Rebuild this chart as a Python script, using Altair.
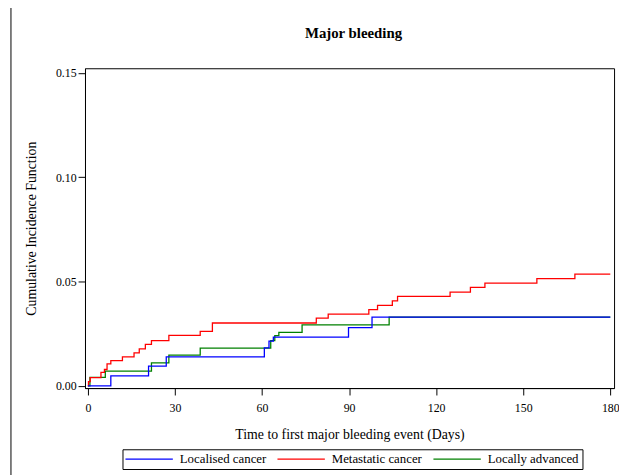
import altair as alt
import pandas as pd

# Series (days, cumulative incidence)
groups = ["Localised cancer", "Metastatic cancer", "Locally advanced"]
colors = ["#0000FF", "#FF0000", "#008000"]

loc_days = [0, 7.9, 20.9, 27.0, 60.8, 62.4, 63.9, 89.8, 97.9, 180]
loc_cif = [0.0, 0.0048, 0.0094, 0.0139, 0.0182, 0.0214, 0.0233, 0.0279, 0.0329, 0.0329]

met_days = [0, 0.2, 0.8, 4.5, 5.7, 6.6, 7.9, 11.9, 15.9, 17.7, 19.8, 21.9, 27.9, 38.7, 42.9,
            78.7, 82.8, 96.8, 99.8, 104.9, 106.7, 124.8, 131.8, 136.8, 154.7, 167.8, 180]
met_cif = [0.0, 0.0020, 0.0039, 0.0064, 0.0078, 0.0105, 0.0121, 0.0139, 0.0158, 0.0177, 0.0198,
           0.0216, 0.0242, 0.0261, 0.0301, 0.0324, 0.0344, 0.0365, 0.0385, 0.0407, 0.0429,
           0.0449, 0.0472, 0.0492, 0.0514, 0.0535, 0.0535]

adv_days = [0, 0.7, 6.0, 21.9, 27.9, 38.7, 63.0, 64.4, 65.8, 73.8, 103.8, 180]
adv_cif = [0.0, 0.0040, 0.0070, 0.0110, 0.0147, 0.0181, 0.0216, 0.0240, 0.0256, 0.0292, 0.0329, 0.0329]

x_ticks = [0, 30, 60, 90, 120, 150, 180]
y_ticks = [0.00, 0.05, 0.10, 0.15]
title_text = "Major bleeding"

rows = []
for g, ds, cs in [(groups[2], adv_days, adv_cif), (groups[1], met_days, met_cif), (groups[0], loc_days, loc_cif)]:
    for d, c in zip(ds, cs):
        rows.append({"group": g, "day": d, "cif": c})
df = pd.DataFrame(rows)

FONT = "Liberation Serif"

lines = alt.Chart(df).mark_line(interpolate="step-after", strokeWidth=1.3).encode(
    x=alt.X("day:Q",
            scale=alt.Scale(domain=[-1, 181.3], nice=False, zero=False),
            axis=alt.Axis(values=x_ticks, title="Time to first major bleeding event (Days)",
                          tickSize=7, labelPadding=8, labelFontSize=12, titleFontSize=14,
                          titleX=268, titleY=47, titleBaseline="middle", titleAlign="center")),
    y=alt.Y("cif:Q",
            scale=alt.Scale(domain=[-0.0011, 0.1522], nice=False, zero=False),
            axis=alt.Axis(values=y_ticks, format=".2f", title="Cumulative Incidence Function",
                          tickSize=7, labelPadding=2, labelFontSize=12, titleFontSize=14,
                          titleX=-54, titleY=162, titleAngle=-90, titleBaseline="middle",
                          titleAlign="center")),
    color=alt.Color("group:N",
                    scale=alt.Scale(domain=groups, range=colors),
                    legend=alt.Legend(title=None, orient="none", legendX=38, legendY=386,
                                      direction="horizontal",
                                      symbolType="M-4,0L4,0", symbolSize=144,
                                      symbolStrokeWidth=1.3, symbolOffset=17,
                                      labelFont=FONT, labelFontSize=13, labelColor="black",
                                      strokeColor="black", padding=3, columnPadding=8,
                                      labelOffset=24, labelLimit=300)),
    detail="group:N",
)

title = alt.Chart(pd.DataFrame({"t": [title_text]})).mark_text(
    font=FONT, fontSize=15, fontWeight="bold", color="black", align="center", baseline="middle"
).encode(text="t:N", x=alt.value(272), y=alt.value(-36))

border = alt.Chart(pd.DataFrame({"k": [0]})).mark_rule(color="black", strokeWidth=1).encode(
    x=alt.value(-75), y=alt.value(-70), y2=alt.value(420)
)

chart = alt.layer(lines, title, border).properties(
    width=536, height=324,
    background="white",
    autosize=alt.AutoSizeParams(type="none"),
    padding={"left": 78, "top": 58, "right": 5, "bottom": 85},
).configure_view(stroke="black", strokeWidth=1).configure_axis(
    grid=False, domainColor="black", tickColor="black", labelColor="black",
    titleColor="black", labelFont=FONT, titleFont=FONT, titleFontWeight="normal",
    domainWidth=1, tickWidth=1
)

chart.save("out.html", embed_options={"renderer": "svg", "actions": False})
